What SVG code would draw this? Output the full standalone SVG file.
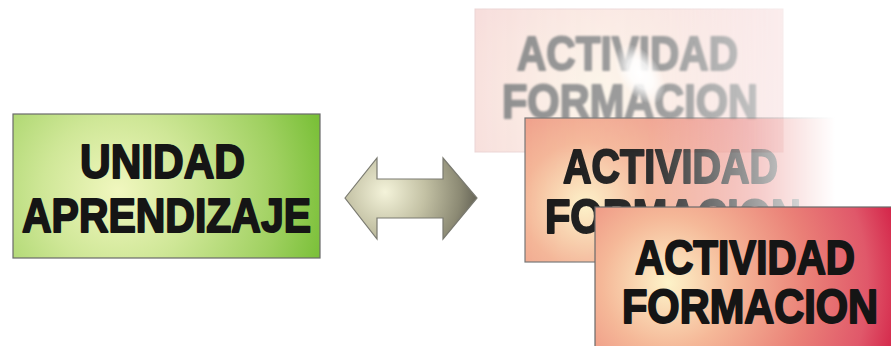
<svg xmlns="http://www.w3.org/2000/svg" width="891" height="346" viewBox="0 0 891 346">
  <defs>
    <style>
      .lbl { font-family: "Liberation Sans", Arial, sans-serif; font-weight: bold; font-size: 49px; fill: #151515; stroke: #151515; stroke-width: 2; stroke-linejoin: round; }
      .ghost { fill: #5e5e5e; stroke: #5e5e5e; }
      .box { stroke: #6a6a6a; stroke-width: 1.2; }
    </style>
    <radialGradient id="gGreen" gradientUnits="userSpaceOnUse" cx="118" cy="192" r="215">
      <stop offset="0" stop-color="#f1f7bf"/>
      <stop offset="0.35" stop-color="#cfe797"/>
      <stop offset="0.75" stop-color="#9fd060"/>
      <stop offset="1" stop-color="#78bf36"/>
    </radialGradient>
    <radialGradient id="gArrow" gradientUnits="userSpaceOnUse" cx="385" cy="192" r="100">
      <stop offset="0" stop-color="#f4f3da"/>
      <stop offset="0.4" stop-color="#c3c1a4"/>
      <stop offset="0.75" stop-color="#8c8a74"/>
      <stop offset="1" stop-color="#55544a"/>
    </radialGradient>
    <radialGradient id="gFront" gradientUnits="userSpaceOnUse" cx="668" cy="283" r="235">
      <stop offset="0" stop-color="#fdf3c9"/>
      <stop offset="0.28" stop-color="#f5b898"/>
      <stop offset="0.6" stop-color="#ea8077"/>
      <stop offset="0.85" stop-color="#e0586a"/>
      <stop offset="1" stop-color="#d4264a"/>
    </radialGradient>
    <radialGradient id="gMid" gradientUnits="userSpaceOnUse" cx="585" cy="205" r="180">
      <stop offset="0" stop-color="#fdf1c6"/>
      <stop offset="0.35" stop-color="#f4b597"/>
      <stop offset="1" stop-color="#e77c78"/>
    </radialGradient>
    <radialGradient id="gBack" gradientUnits="userSpaceOnUse" cx="600" cy="95" r="180">
      <stop offset="0" stop-color="#fbf1df"/>
      <stop offset="0.4" stop-color="#f8e0d6"/>
      <stop offset="1" stop-color="#f2c9c9"/>
    </radialGradient>
    <radialGradient id="gGlare" gradientUnits="userSpaceOnUse" cx="0" cy="0" r="1">
      <stop offset="0" stop-color="#ffffff" stop-opacity="1"/>
      <stop offset="0.5" stop-color="#ffffff" stop-opacity="0.8"/>
      <stop offset="1" stop-color="#ffffff" stop-opacity="0"/>
    </radialGradient>
    <linearGradient id="fadeMid" gradientUnits="userSpaceOnUse" x1="525" y1="0" x2="835" y2="0">
      <stop offset="0" stop-color="#fff" stop-opacity="1"/>
      <stop offset="0.4" stop-color="#fff" stop-opacity="0.9"/>
      <stop offset="0.75" stop-color="#fff" stop-opacity="0.4"/>
      <stop offset="1" stop-color="#fff" stop-opacity="0"/>
    </linearGradient>
    <linearGradient id="fadeBack" gradientUnits="userSpaceOnUse" x1="475" y1="0" x2="790" y2="0">
      <stop offset="0" stop-color="#fff" stop-opacity="1"/>
      <stop offset="0.6" stop-color="#fff" stop-opacity="0.85"/>
      <stop offset="1" stop-color="#fff" stop-opacity="0.45"/>
    </linearGradient>
    <mask id="mMid" maskUnits="userSpaceOnUse" x="0" y="0" width="891" height="346">
      <rect x="0" y="0" width="891" height="346" fill="url(#fadeMid)"/>
    </mask>
    <mask id="mBack" maskUnits="userSpaceOnUse" x="0" y="0" width="891" height="346">
      <rect x="0" y="0" width="891" height="346" fill="url(#fadeBack)"/>
    </mask>
    <filter id="soft" x="-10%" y="-20%" width="120%" height="140%">
      <feGaussianBlur stdDeviation="1"/>
    </filter>
    <filter id="soft2" x="-10%" y="-20%" width="120%" height="140%">
      <feGaussianBlur stdDeviation="0.5"/>
    </filter>
  </defs>

  <rect width="891" height="346" fill="#ffffff"/>

  <!-- learning unit -->
  <g id="unidad-aprendizaje">
    <rect class="box" x="13" y="114" width="307" height="144" fill="url(#gGreen)"/>
    <text class="lbl" x="80" y="178" textLength="165" lengthAdjust="spacingAndGlyphs">UNIDAD</text>
    <text class="lbl" x="22" y="232" textLength="289" lengthAdjust="spacingAndGlyphs">APRENDIZAJE</text>
  </g>

  <!-- two-way link -->
  <g id="connectors">
    <polygon points="345,198 377,158 377,179 443,179 443,158 477,198 443,239 443,218 377,218 377,239" fill="url(#gArrow)" stroke="#7a7a70" stroke-width="1.2" stroke-linejoin="miter"/>
  </g>

  <!-- stacked training activities, back to front -->
  <g id="actividad-formacion-3" mask="url(#mBack)" opacity="0.7">
    <rect x="475" y="9" width="308" height="143" fill="url(#gBack)" stroke="#e3c3c3" stroke-width="1"/>
    <g filter="url(#soft)">
      <text class="lbl ghost" x="517" y="70" textLength="221" lengthAdjust="spacingAndGlyphs">ACTIVIDAD</text>
      <text class="lbl ghost" x="502" y="118" textLength="256" lengthAdjust="spacingAndGlyphs">FORMACION</text>
    </g>
    <ellipse cx="0" cy="0" rx="1" ry="1" fill="url(#gGlare)" transform="translate(640 74) rotate(-35) scale(20 34)"/>
  </g>

  <g id="actividad-formacion-2" mask="url(#mMid)">
    <rect x="525" y="118" width="320" height="144" fill="url(#gMid)" stroke="#777" stroke-width="1.2"/>
    <g filter="url(#soft2)">
      <text class="lbl" x="563" y="183" textLength="215" lengthAdjust="spacingAndGlyphs">ACTIVIDAD</text>
      <text class="lbl" x="545" y="233" textLength="256" lengthAdjust="spacingAndGlyphs">FORMACION</text>
    </g>
  </g>

  <g id="actividad-formacion-1">
    <rect class="box" x="595" y="207" width="310" height="150" fill="url(#gFront)" stroke="#555"/>
    <text class="lbl" x="635" y="274" textLength="220" lengthAdjust="spacingAndGlyphs">ACTIVIDAD</text>
    <text class="lbl" x="622" y="323" textLength="256" lengthAdjust="spacingAndGlyphs">FORMACION</text>
  </g>
</svg>
